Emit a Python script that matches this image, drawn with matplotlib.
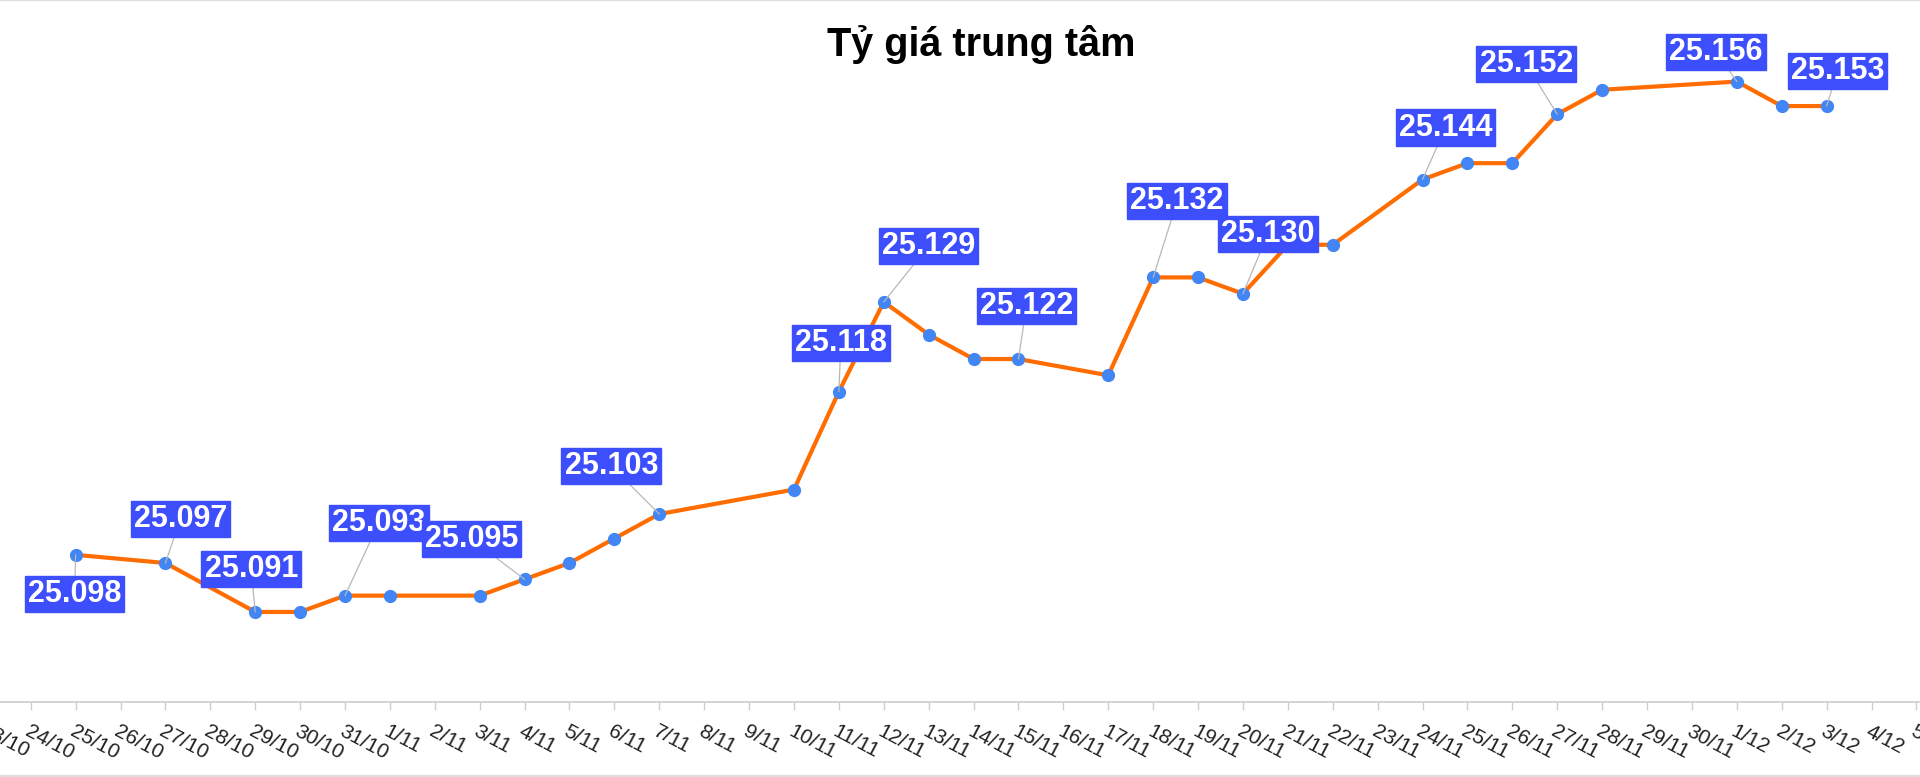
import matplotlib
matplotlib.use("Agg")
import matplotlib.pyplot as plt
from matplotlib.lines import Line2D

plt.rcParams['font.family'] = ['Liberation Sans', 'DejaVu Sans']

# nhãn trục x: 23/10 -> 5/12
day_labels = [f"{d}/10" for d in range(23, 32)] + \
             [f"{d}/11" for d in range(1, 31)] + \
             [f"{d}/12" for d in range(1, 6)]

# các ngày có dữ liệu
dates = ["25/10", "27/10", "29/10", "30/10", "31/10", "1/11", "3/11", "4/11",
         "5/11", "6/11", "7/11", "10/11", "11/11", "12/11", "13/11", "14/11",
         "15/11", "17/11", "18/11", "19/11", "20/11", "21/11", "22/11", "24/11",
         "25/11", "26/11", "27/11", "28/11", "1/12", "2/12", "3/12"]
rates = [25.098, 25.097, 25.091, 25.091, 25.093, 25.093, 25.093, 25.095,
         25.097, 25.100, 25.103, 25.106, 25.118, 25.129, 25.125, 25.122,
         25.122, 25.120, 25.132, 25.132, 25.130, 25.136, 25.136, 25.144,
         25.146, 25.146, 25.152, 25.155, 25.156, 25.153, 25.153]

# điểm có nhãn và vị trí hộp nhãn (pixel so với điểm)
label_offsets = {
    "25/10": (-1, -39), "27/10": (15, 44), "29/10": (-4, 43), "31/10": (34, 73),
    "4/11": (-53, 40), "7/11": (-48, 48), "11/11": (2, 49), "12/11": (45, 56),
    "15/11": (8, 53), "18/11": (24, 76), "20/11": (25, 60), "24/11": (23, 52),
    "27/11": (-31, 50), "1/12": (-21, 30), "3/12": (11, 35),
}

x = [day_labels.index(d) for d in dates]

fig = plt.figure(figsize=(19.2, 7.77), dpi=100)
ax = fig.add_axes([0, 75.3 / 777, 1, 701.7 / 777])

ax.plot(x, rates, color='#ff6d01', lw=3, zorder=2)
ax.plot(x, rates, 'o', color='#4285f4', markersize=8.5, zorder=3)

for d, (dx, dy) in label_offsets.items():
    i = dates.index(d)
    ax.annotate(f"{rates[i]:.3f}", (x[i], rates[i]), xytext=(dx, dy),
                textcoords='offset pixels', ha='center', va='center',
                color='white', fontsize=22, fontweight='bold', zorder=5,
                bbox=dict(boxstyle='square,pad=0.1', fc='#3d4efc', ec='#3d4efc'),
                arrowprops=dict(arrowstyle='-', color='#b8b8b8', lw=0.9,
                                shrinkA=0, shrinkB=0))

ax.set_xticks(range(len(day_labels)))
ax.set_xticklabels(day_labels)
ax.set_yticks([])
# đặt giới hạn sau set_xticks (set_xticks tự nới rộng trục)
ax.set_xlim(0.316, 43.08)
ax.set_ylim(25.080, 25.166)
for s in ['top', 'left', 'right']:
    ax.spines[s].set_visible(False)
ax.spines['bottom'].set_color('#cccccc')
ax.spines['bottom'].set_linewidth(1.2)
ax.tick_params(axis='x', length=6, width=1, color='#cccccc', pad=8.5,
               labelsize=15, labelcolor='#222222')
plt.setp(ax.get_xticklabels(), rotation=-28, ha='left', rotation_mode='anchor')
ax.patch.set_alpha(0)

# nhãn 23/10 nằm ngoài khung, chỉ thấy một phần
ax.annotate(day_labels[0], (0, 0), xycoords=ax.get_xaxis_transform(),
            xytext=(0, -17.8), textcoords='offset pixels', fontsize=15,
            color='#222222', rotation=-28, ha='left', va='top',
            rotation_mode='anchor', annotation_clip=False)

fig.text(981 / 1920, 1 - 45 / 777, "Tỷ giá trung tâm", ha='center', va='center',
         fontsize=28.5, fontweight='bold', color='black')

# viền trên / dưới
fig.add_artist(Line2D([0, 1], [0.9995, 0.9995], color='#dddddd', lw=1.5))
fig.add_artist(Line2D([0, 1], [0.0008, 0.0008], color='#dddddd', lw=1.5))

fig.savefig("out.png", dpi=100)
